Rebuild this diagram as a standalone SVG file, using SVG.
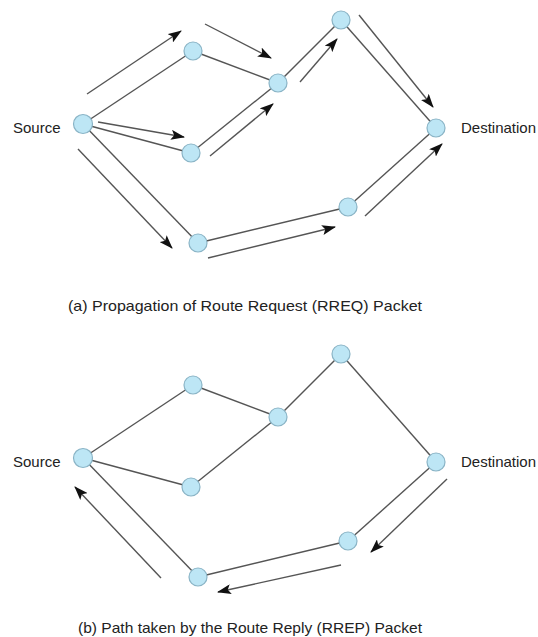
<svg xmlns="http://www.w3.org/2000/svg" width="538" height="637" viewBox="0 0 538 637">
<defs>
<style>
.edge{stroke:#555;stroke-width:1.4;fill:none}
.arr{stroke:#555;stroke-width:1.4;fill:none;marker-end:url(#ah)}
.node{fill:#bde6f5;stroke:#8ab4c6;stroke-width:1.2}
.lbl{font-family:"Liberation Sans",Arial,sans-serif;font-size:15px;fill:#222}
.cap{font-family:"Liberation Sans",Arial,sans-serif;font-size:14.5px;fill:#222}
</style>
<marker id="ah" markerWidth="14" markerHeight="10" refX="13" refY="5" orient="auto" markerUnits="userSpaceOnUse">
<path d="M0,0 L14,5 L0,10 L3,5 Z" fill="#111"/>
</marker>
</defs>
<rect width="538" height="637" fill="#fff"/>
<g id="connectors">
<line class="edge" x1="83" y1="124" x2="193" y2="51"/>
<line class="edge" x1="83" y1="124" x2="191" y2="153"/>
<line class="edge" x1="83" y1="124" x2="198" y2="243"/>
<line class="edge" x1="193" y1="51" x2="278" y2="83"/>
<line class="edge" x1="191" y1="153" x2="278" y2="83"/>
<line class="edge" x1="278" y1="83" x2="341" y2="20"/>
<line class="edge" x1="341" y1="20" x2="436" y2="128"/>
<line class="edge" x1="198" y1="243" x2="348" y2="207"/>
<line class="edge" x1="348" y1="207" x2="436" y2="128"/>
<line class="arr" x1="87" y1="94" x2="181" y2="31"/>
<line class="arr" x1="205" y1="24" x2="271" y2="58"/>
<line class="arr" x1="98" y1="122" x2="184" y2="137"/>
<line class="arr" x1="210" y1="156" x2="273" y2="104"/>
<line class="arr" x1="300" y1="82" x2="337" y2="39"/>
<line class="arr" x1="359" y1="15" x2="433" y2="107"/>
<line class="arr" x1="78" y1="149" x2="172" y2="248"/>
<line class="arr" x1="208" y1="258" x2="335" y2="227"/>
<line class="arr" x1="365" y1="216" x2="442" y2="144"/>
<line class="edge" x1="83" y1="458" x2="193" y2="385"/>
<line class="edge" x1="83" y1="458" x2="191" y2="487"/>
<line class="edge" x1="83" y1="458" x2="198" y2="577"/>
<line class="edge" x1="193" y1="385" x2="278" y2="417"/>
<line class="edge" x1="191" y1="487" x2="278" y2="417"/>
<line class="edge" x1="278" y1="417" x2="341" y2="354"/>
<line class="edge" x1="341" y1="354" x2="436" y2="462"/>
<line class="edge" x1="198" y1="577" x2="348" y2="541"/>
<line class="edge" x1="348" y1="541" x2="436" y2="462"/>
<line class="arr" x1="341" y1="565" x2="218" y2="592"/>
<line class="arr" x1="447" y1="479" x2="371" y2="552"/>
<line class="arr" x1="161" y1="578" x2="75" y2="487"/>
</g>
<g id="top-source"><circle class="node" cx="83" cy="124" r="9.5"/><text class="lbl" x="13" y="133">Source</text></g>
<g id="top-n1"><circle class="node" cx="193" cy="51" r="9"/></g>
<g id="top-n2"><circle class="node" cx="191" cy="153" r="9"/></g>
<g id="top-n3"><circle class="node" cx="278" cy="83" r="9"/></g>
<g id="top-n4"><circle class="node" cx="341" cy="20" r="9"/></g>
<g id="top-dest"><circle class="node" cx="436" cy="128" r="9"/><text class="lbl" x="461" y="133">Destination</text></g>
<g id="top-n5"><circle class="node" cx="348" cy="207" r="9"/></g>
<g id="top-n6"><circle class="node" cx="198" cy="243" r="9"/></g>
<text class="cap" x="68" y="311" textLength="354" lengthAdjust="spacingAndGlyphs">(a) Propagation of Route Request (RREQ) Packet</text>
<g id="bot-source"><circle class="node" cx="83" cy="458" r="9.5"/><text class="lbl" x="13" y="467">Source</text></g>
<g id="bot-n1"><circle class="node" cx="193" cy="385" r="9"/></g>
<g id="bot-n2"><circle class="node" cx="191" cy="487" r="9"/></g>
<g id="bot-n3"><circle class="node" cx="278" cy="417" r="9"/></g>
<g id="bot-n4"><circle class="node" cx="341" cy="354" r="9"/></g>
<g id="bot-dest"><circle class="node" cx="436" cy="462" r="9"/><text class="lbl" x="461" y="467">Destination</text></g>
<g id="bot-n5"><circle class="node" cx="348" cy="541" r="9"/></g>
<g id="bot-n6"><circle class="node" cx="198" cy="577" r="9"/></g>
<text class="cap" x="78" y="633" textLength="344" lengthAdjust="spacingAndGlyphs">(b) Path taken by the Route Reply (RREP) Packet</text>
</svg>
